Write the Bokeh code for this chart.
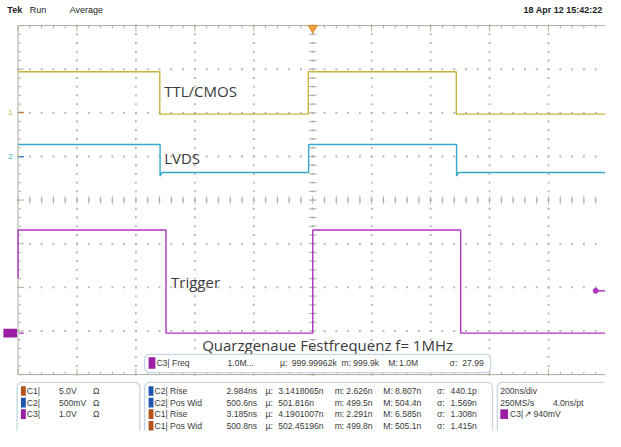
import numpy as np
from bokeh.plotting import figure
from bokeh.models import Range1d
from bokeh.core.properties import value
from bokeh.embed import file_html
from bokeh.resources import INLINE

# ---------------- data (time in ns, amplitude in divisions) ----------------
ttl_t = [-1000, -519, -519, -15, -15, 487, 487, 1000]
ttl_v = [2.94, 2.94, 1.97, 1.97, 2.94, 2.94, 1.97, 1.97]

lvds_t = [-1000, -518, -518, -511, -14, -14, 488, 488, 495, 1000]
lvds_v = [1.275, 1.275, 0.55, 0.634, 0.634, 1.275, 1.275, 0.55, 0.634, 0.634]

trig_t = [-1000, -1000, -498, -498, 0, 0, 502, 502, 1000]
trig_v = [-1.79, -0.685, -0.685, -3.05, -3.05, -0.685, -0.685, -3.05, -3.05]

ground_levels = {"1": 2.01, "2": 0.99, "3": -3.05}
trigger_level = -2.08

trace_labels = ["TTL/CMOS", "LVDS", "Trigger"]
title_text = "Quarzgenaue Festfrequenz f= 1MHz"

header_left = ["Tek", "Run", "Average"]
header_right = "18 Apr 12 15:42:22"

chan_names = ["C1|", "C2|", "C3|"]
chan_scale = ["5.0V", "500mV", "1.0V"]

freq_row = ["C3| Freq", "1.0M...", "µ:", "999.99962k", "m:", "999.9k", "M:", "1.0M", "σ:", "27.99"]
meas_names = ["C2| Rise", "C2| Pos Wid", "C1| Rise", "C1| Pos Wid"]
meas_chan = ["C2", "C2", "C1", "C1"]
meas_value = ["2.984ns", "500.6ns", "3.185ns", "500.8ns"]
meas_mean = ["3.1418065n", "501.816n", "4.1901007n", "502.45196n"]
meas_min = ["2.626n", "499.5n", "2.291n", "499.8n"]
meas_max = ["8.807n", "504.4n", "6.585n", "505.1n"]
meas_std = ["440.1p", "1.569n", "1.308n", "1.415n"]

horiz_info = ["200ns/div", "250MS/s", "4.0ns/pt", "C3|", "↗", "940mV"]

# ---------------- colours ----------------
C_TTL = "#c9b33a"
C_LVDS = "#35a9c9"
C_TRIG = "#b133c2"
SQ = {"C1": "#b4541c", "C2": "#1f56b0", "C3": "#9a1ea6"}
GRAT = "#aeae9e"
DOT = "#b4b4b4"
TXT = "#3a3a3a"
BOX = "#c6d6e2"


# screen-reference helpers (reference pixel -> scope units)
def X(px):
    return (px - 320.5) / 60.5 * 200.0


def Y(py):
    return (207.0 - py) / 45.25


W, H = 605, 431
p = figure(width=W, height=H, x_range=Range1d(X(0), X(621)), y_range=Range1d(Y(447), Y(0)),
           output_backend="svg", toolbar_location=None, min_border=0,
           x_axis_location=None, y_axis_location=None)
p.grid.visible = False
p.outline_line_color = None
p.background_fill_color = "white"
p.border_fill_color = "white"

# ---------------- graticule ----------------
majx = np.arange(-1000, 1001, 200)
majy = np.arange(-4, 5, 1)
minx = np.arange(-1000, 1001, 40)
miny = np.round(np.arange(-4, 4.01, 0.2), 3)

# dotted grid
gx, gy = [], []
for t in majx[1:-1]:
    for yy in miny:
        gx.append(t); gy.append(yy)
for yy in majy[1:-1]:
    for t in minx:
        gx.append(t); gy.append(yy)
p.scatter(gx, gy, size=1.9, marker="square", color=DOT, line_color=None)

# frame
p.segment(x0=[-1000, -1000, -1000], y0=[4, -4, -4], x1=[1000, 1000, -1000], y1=[4, -4, 4],
          line_color=GRAT, line_width=1)

dy_min, dy_maj = 3 / 45.25, 6 / 45.25
dx_min, dx_maj = 3 / 60.5 * 200, 6 / 60.5 * 200

def is_major_x(t):
    return abs(t / 200 - round(t / 200)) < 1e-6

def is_major_y(v):
    return abs(v - round(v)) < 1e-6

x0s, y0s, x1s, y1s = [], [], [], []
for t in minx:
    L = dy_maj if is_major_x(t) else dy_min
    x0s.append(t); y0s.append(4); x1s.append(t); y1s.append(4 - L)
    x0s.append(t); y0s.append(-4); x1s.append(t); y1s.append(-4 + L)
    x0s.append(t); y0s.append(-dy_min * 1.3); x1s.append(t); y1s.append(dy_min * 1.3)
for v in miny:
    L = dx_maj if is_major_y(v) else dx_min
    x0s.append(-1000); y0s.append(v); x1s.append(-1000 + L); y1s.append(v)
    x0s.append(-dx_min * 1.3); y0s.append(v); x1s.append(dx_min * 1.3); y1s.append(v)
p.segment(x0=x0s, y0=y0s, x1=x1s, y1=y1s, line_color=GRAT, line_width=1)

# ---------------- traces ----------------
p.line(ttl_t, ttl_v, line_color=C_TTL, line_width=1.4)
p.line(lvds_t, lvds_v, line_color=C_LVDS, line_width=1.4)
p.line(trig_t, trig_v, line_color=C_TRIG, line_width=1.4)

# ground markers
p.text(x=[X(8), X(8)], y=[ground_levels["1"], ground_levels["2"]], text=["1", "2"],
       text_color=[C_TTL, C_LVDS], text_font=value("Liberation Sans"), text_font_size="8px",
       text_baseline="middle", text_align="left")
p.segment(x0=[X(19), X(19), X(19)], y0=[ground_levels["1"], ground_levels["2"], ground_levels["3"]],
          x1=[X(24), X(24), X(24)], y1=[ground_levels["1"], ground_levels["2"], ground_levels["3"]],
          line_color=["#c07838", "#2a7ac0", C_TRIG], line_width=1.2)
p.quad(left=[X(3)], right=[X(17)], top=[ground_levels["3"] + 4.5 / 45.25],
       bottom=[ground_levels["3"] - 4.5 / 45.25], fill_color="#9a1ea6", line_color=None)

# trigger level arrow (right)
p.scatter([X(611)], [trigger_level], marker="circle", size=5, color=C_TRIG)
p.segment(x0=[X(611)], y0=[trigger_level], x1=[X(625)], y1=[trigger_level], line_color=C_TRIG, line_width=1.5)

# trigger position marker
p.scatter([0], [Y(28.5)], marker="inverted_triangle", size=9, color="#f0a040", line_color="#e08a20")

# ---------------- labels ----------------
p.text(x=[X(168), X(168), X(175)], y=[Y(94), Y(163), Y(292)], text=trace_labels,
       text_font=value("Open Sans"), text_font_size="15px", text_color=TXT,
       text_baseline="middle", text_align="left")
p.text(x=[X(207)], y=[Y(357)], text=[title_text], text_font=value("Open Sans"),
       text_font_size="15px", text_color=TXT, text_baseline="middle", text_align="left")

# header
p.text(x=[X(7)], y=[Y(10)], text=[header_left[0]], text_font=value("Liberation Sans"),
       text_font_size="9px", text_font_style="bold", text_color="#222222",
       text_baseline="middle", text_align="left")
p.text(x=[X(30), X(71)], y=[Y(10), Y(10)], text=header_left[1:], text_font=value("Liberation Sans"),
       text_font_size="9px", text_color="#222222", text_baseline="middle", text_align="left")
p.text(x=[X(618)], y=[Y(10)], text=[header_right], text_font=value("Liberation Sans"),
       text_font_size="9px", text_font_style="bold", text_color="#222222",
       text_baseline="middle", text_align="right")

# ---------------- measurement boxes ----------------
box_l = [X(148), X(17), X(148), X(510)]
box_r = [X(503), X(143), X(505), X(640)]
box_t = [Y(367), Y(396), Y(396), Y(396)]
box_b = [Y(386), Y(470), Y(470), Y(470)]
p.quad(left=box_l, right=box_r, top=box_t, bottom=box_b, fill_color="white",
       line_color=BOX, line_width=1.3, border_radius=5)

FS = "8.6px"
def txt(xs, ys, ts):
    p.text(x=xs, y=ys, text=ts, text_font=value("Liberation Sans"), text_font_size=FS,
           text_color=TXT, text_baseline="middle", text_align="left")

def square(px0, px1, pyc, h, col):
    p.quad(left=[X(px0)], right=[X(px1)], top=[Y(pyc - h / 2)], bottom=[Y(pyc + h / 2)],
           fill_color=col, line_color=None)

# freq row
fy = 376
square(152, 159, fy, 12, SQ["C3"])
fx = [160, 233, 287, 299, 350, 362, 398, 409, 461, 474]
txt([X(v) for v in fx], [Y(fy)] * len(fx), freq_row)

# channel box
rows = [405, 417, 429, 441]
for i, (n, s) in enumerate(zip(chan_names, chan_scale)):
    square(21, 26, rows[i], 10, SQ["C" + str(i + 1)])
    txt([X(27), X(60), X(95)], [Y(rows[i])] * 3, [n, s, "Ω"])

# measurement box
cols = [158, 232, 272, 285, 343, 355, 393, 405, 448, 462]
for i in range(4):
    square(152, 157, rows[i], 10, SQ[meas_chan[i]])
    items = [meas_names[i], meas_value[i], "µ:", meas_mean[i], "m:", meas_min[i],
             "M:", meas_max[i], "σ:", meas_std[i]]
    txt([X(v) for v in cols], [Y(rows[i])] * len(cols), items)

# horizontal / trigger box
txt([X(513)], [Y(rows[0])], [horiz_info[0]])
txt([X(513), X(567)], [Y(rows[1])] * 2, horiz_info[1:3])
square(513, 521, rows[2], 10, SQ["C3"])
txt([X(523), X(537), X(547)], [Y(rows[2])] * 3, horiz_info[3:6])

open("out.html", "w").write(file_html(p, INLINE))
